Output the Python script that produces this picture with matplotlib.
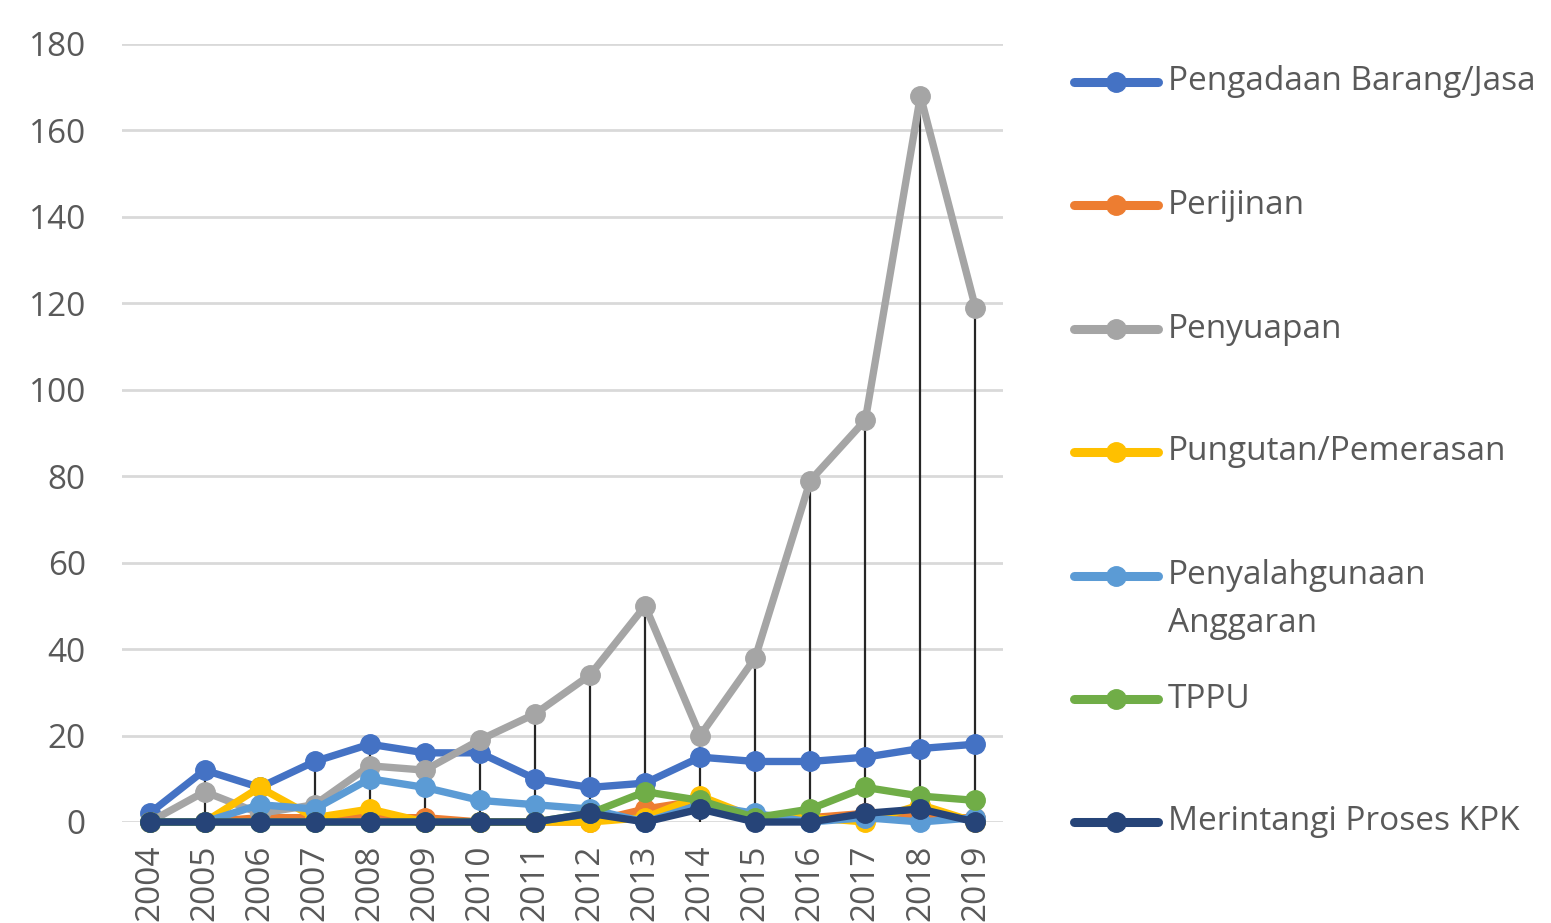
import numpy as np
from matplotlib import pyplot as plt
from matplotlib.lines import Line2D

years = [str(y) for y in range(2004, 2020)]

pengadaan = [2, 12, 8, 14, 18, 16, 16, 10, 8, 9, 15, 14, 14, 15, 17, 18]
perijinan = [0, 0, 1, 1, 1, 1, 0, 0, 0, 3, 5, 1, 1, 2, 1, 1]
penyuapan = [0, 7, 2, 4, 13, 12, 19, 25, 34, 50, 20, 38, 79, 93, 168, 119]
pungutan = [0, 0, 8, 1, 3, 0, 0, 0, 0, 1, 6, 1, 1, 0, 4, 0]
anggaran = [0, 0, 4, 3, 10, 8, 5, 4, 3, 0, 4, 2, 0, 1, 0, 1]
tppu = [0, 0, 0, 0, 0, 0, 0, 0, 2, 7, 5, 1, 3, 8, 6, 5]
merintangi = [0, 0, 0, 0, 0, 0, 0, 0, 2, 0, 3, 0, 0, 2, 3, 0]

series = [pengadaan, perijinan, penyuapan, pungutan, anggaran, tppu, merintangi]
labels = ['Pengadaan Barang/Jasa', 'Perijinan', 'Penyuapan', 'Pungutan/Pemerasan',
          'Penyalahgunaan\nAnggaran', 'TPPU', 'Merintangi Proses KPK']
colors = ['#4472C4', '#ED7D31', '#A5A5A5', '#FFC000', '#5B9BD5', '#70AD47', '#264478']

plt.rcParams['font.family'] = ['Open Sans', 'DejaVu Sans']
text_color = '#595959'
W, H = 1551, 923

fig = plt.figure(figsize=(W / 100, H / 100), dpi=100)
ax = fig.add_axes([122 / W, 1 - 822 / H, (1003 - 122) / W, (822 - 44) / H])

x = np.arange(len(years))
top = np.max(np.array(series), axis=0)
ax.vlines(x, 0, top, colors='#262626', linewidth=1.6, zorder=2)

for i, (s, c) in enumerate(zip(series, colors)):
    ax.plot(x, s, color=c, linewidth=5.3, marker='o', markersize=14,
            clip_on=False, zorder=3 + i)

ax.set_xlim(-0.5, len(years) - 0.5)
ax.set_ylim(0, 180)
ax.set_yticks(range(0, 181, 20))
ax.grid(axis='y', color='#D9D9D9', linewidth=2)
ax.set_axisbelow(True)
for sp in ax.spines.values():
    sp.set_visible(False)
ax.set_xticks(x)
ax.set_xticklabels(years, rotation=90)
ax.tick_params(axis='both', length=0, labelsize=24, labelcolor=text_color)
ax.tick_params(axis='y', pad=26)
ax.tick_params(axis='x', pad=16)

# legend on the right
leg_y = [82, 205, 329, 452, 576, 699, 822]
for lab, c, yy in zip(labels, colors, leg_y):
    fy = 1 - yy / H
    fig.add_artist(Line2D([1074 / W, 1158 / W], [fy, fy], color=c, linewidth=6.5,
                          solid_capstyle='round', transform=fig.transFigure))
    fig.add_artist(Line2D([1116 / W], [fy], color=c, marker='o', markersize=14,
                          transform=fig.transFigure))
    for k, part in enumerate(lab.split('\n')):
        fig.text(1168 / W, 1 - (yy + 48 * k) / H, part, fontsize=24,
                 color=text_color, va='center')

fig.savefig('out.png', dpi=100)
